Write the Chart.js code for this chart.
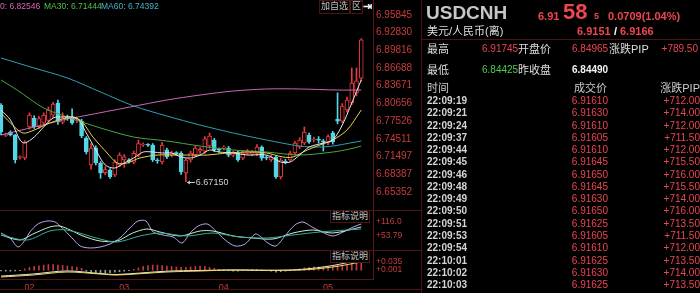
<!DOCTYPE html>
<html>
<head>
<meta charset="utf-8">
<script src="https://cdn.jsdelivr.net/npm/chart.js@4.4.0/dist/chart.umd.min.js"></script>
<style>
    body { margin: 0; background: #000; width: 700px; height: 293px; overflow: hidden; position: relative;
           font-family: "Liberation Sans", "Noto Sans CJK SC", sans-serif; }
    canvas { position: absolute; left: 0; }
    .t { position: absolute; white-space: nowrap; }
    .hl { position: absolute; height: 1px; background: #4d1414; }
    .vl { position: absolute; width: 1px; background: #4d1414; }
    .box { position: absolute; border: 1px solid #4d1414; color: #c4c4c4; font-size: 9px; line-height: 11px;
           text-align: center; white-space: nowrap; background: #000; }
</style>
</head>
<body>
<canvas id="priceChart" width="420" height="210" style="top:0"></canvas>
<canvas id="oscChart" width="420" height="40" style="top:210px"></canvas>
<canvas id="macdChart" width="420" height="43" style="top:250px"></canvas>
<div id="overlay"></div>
<script>
    // daily candles, 24 Jan .. 13 May
    var opens = [6.8034, 6.7510, 6.7569, 6.7517, 6.7130, 6.7121, 6.7655, 6.7810, 6.7660, 6.7720,
        6.7770, 6.7860, 6.8068, 6.7740, 6.7820, 6.7827, 6.7760, 6.7758, 6.7465, 6.7000,
        6.7293, 6.7035, 6.6870, 6.6914, 6.6828, 6.7000, 6.7090, 6.7090, 6.7050, 6.7170,
        6.7345, 6.7350, 6.7345, 6.7080, 6.7052, 6.7260, 6.7170, 6.7210, 6.7207, 6.6862,
        6.7086, 6.7170, 6.7240, 6.7240, 6.7330, 6.7430, 6.7260, 6.7290, 6.7290, 6.7170,
        6.7210, 6.7120, 6.7200, 6.7190, 6.7200, 6.7310, 6.7130, 6.7090, 6.7138, 6.6793,
        6.7070, 6.7086, 6.7207, 6.7310, 6.7379, 6.7517, 6.7431, 6.7440, 6.7410, 6.7380,
        6.7553, 6.7790, 6.7757, 6.7948, 6.8068, 6.8240, 6.84965];
    var highs = [6.8060, 6.7550, 6.7590, 6.7530, 6.7160, 6.7420, 6.7900, 6.7850, 6.7840, 6.7900,
        6.8000, 6.8080, 6.8120, 6.7900, 6.7860, 6.7970, 6.7810, 6.7790, 6.7490, 6.7370,
        6.7330, 6.7060, 6.6970, 6.6940, 6.7090, 6.7210, 6.7180, 6.7110, 6.7240, 6.7430,
        6.7380, 6.7370, 6.7370, 6.7110, 6.7390, 6.7290, 6.7240, 6.7230, 6.7230, 6.7110,
        6.7240, 6.7330, 6.7300, 6.7490, 6.7550, 6.7460, 6.7290, 6.7330, 6.7320, 6.7240,
        6.7240, 6.7240, 6.7270, 6.7250, 6.7350, 6.7330, 6.7160, 6.7170, 6.7160, 6.7120,
        6.7100, 6.7240, 6.7410, 6.7470, 6.7655, 6.7550, 6.7480, 6.7490, 6.7440, 6.7520,
        6.7580, 6.8243, 6.8060, 6.8170, 6.8672, 6.8672, 6.91745];
    var lows = [6.7520, 6.7490, 6.7500, 6.7035, 6.7100, 6.7090, 6.7620, 6.7630, 6.7630, 6.7690,
        6.7740, 6.7820, 6.7700, 6.7710, 6.7770, 6.7700, 6.7730, 6.7470, 6.7190, 6.6930,
        6.7000, 6.6770, 6.6830, 6.6770, 6.6800, 6.6970, 6.6960, 6.7030, 6.7020, 6.7140,
        6.7320, 6.7320, 6.7060, 6.7030, 6.7020, 6.7110, 6.7140, 6.7170, 6.6840, 6.6715,
        6.7050, 6.7140, 6.7200, 6.7200, 6.7290, 6.7230, 6.7220, 6.7260, 6.7140, 6.7140,
        6.7060, 6.7090, 6.7180, 6.7160, 6.7160, 6.7080, 6.7090, 6.7060, 6.6770, 6.6760,
        6.7020, 6.7060, 6.7180, 6.7280, 6.7350, 6.7370, 6.7400, 6.7380, 6.7240, 6.7350,
        6.7360, 6.7710, 6.7730, 6.7910, 6.8040, 6.8190, 6.84425];
    var closes = [6.7569, 6.7525, 6.7517, 6.7086, 6.7138, 6.7396, 6.7861, 6.7655, 6.7800, 6.7860,
        6.7950, 6.8050, 6.7741, 6.7810, 6.7810, 6.7724, 6.7775, 6.7500, 6.7224, 6.7290,
        6.7035, 6.6862, 6.6920, 6.6793, 6.7052, 6.7170, 6.7140, 6.7060, 6.7200, 6.7370,
        6.7350, 6.7340, 6.7086, 6.7070, 6.7345, 6.7140, 6.7210, 6.7195, 6.6880, 6.7086,
        6.7207, 6.7290, 6.7270, 6.7450, 6.7500, 6.7260, 6.7255, 6.7300, 6.7170, 6.7210,
        6.7090, 6.7210, 6.7240, 6.7220, 6.7310, 6.7120, 6.7120, 6.7140, 6.6793, 6.7086,
        6.7050, 6.7207, 6.7379, 6.7430, 6.7569, 6.7396, 6.7440, 6.7430, 6.7400, 6.7490,
        6.7396, 6.7755, 6.8017, 6.8120, 6.8413, 6.8449, 6.9158];

    var monthTicks = [6, 26, 47, 69];
    var monthLabels = ['02', '03', '04', '05'];
    var priceTicks = [6.95845, 6.92830, 6.89816, 6.86688, 6.83671, 6.80656, 6.77526, 6.74511, 6.71497, 6.68387, 6.65352];

    // moving averages, [candle index, price]
    var ma5Pts = [[0, 6.7948], [2, 6.7775], [4, 6.7431], [5, 6.7379], [7, 6.7482], [9, 6.7655], [11, 6.7810],
        [13, 6.7827], [16, 6.7810], [18, 6.7551], [20, 6.7258], [22, 6.7000], [24, 6.6948], [26, 6.7035],
        [28, 6.7121], [30, 6.7224], [32, 6.7224], [34, 6.7207], [36, 6.7207], [38, 6.7138], [40, 6.7121],
        [42, 6.7172], [44, 6.7258], [46, 6.7224], [49, 6.7207], [52, 6.7172], [56, 6.7172], [59, 6.7052],
        [61, 6.7052], [63, 6.7172], [65, 6.7310], [68, 6.7379], [70, 6.7431], [72, 6.7689], [74, 6.8068], [76, 6.8465]];
    var ma10Pts = [[0, 6.7896], [2, 6.7724], [4.6, 6.7551], [7, 6.7603], [10.3, 6.7724], [14, 6.7810], [16.7, 6.7775],
        [19.4, 6.7482], [22.4, 6.7207], [24.5, 6.7035], [26.6, 6.7035], [29.3, 6.7121], [33, 6.7172], [36.3, 6.7172],
        [40, 6.7172], [43.5, 6.7172], [47.7, 6.7207], [52.5, 6.7224], [56, 6.7207], [59.5, 6.7138], [61.6, 6.7138],
        [64.6, 6.7258], [67.3, 6.7345], [70, 6.7431], [73, 6.7603], [76, 6.7948]];
    var ma120Pts = [[0, 6.7517], [7, 6.7655], [14, 6.7793], [17.3, 6.7844], [27.2, 6.7999], [35, 6.8120],
        [42, 6.8206], [49, 6.8275], [56, 6.8310], [63, 6.8310], [71, 6.8292], [76, 6.8292]];
    var ma30Pts = [[0, 6.8465], [3.4, 6.8292], [9, 6.7982], [14, 6.7827], [21, 6.7638], [28, 6.7482], [35, 6.7414],
        [42, 6.7327], [49, 6.7258], [56, 6.7224], [63, 6.7172], [70, 6.7224], [73.6, 6.7276], [76, 6.7327]];
    var ma60Pts = [[0, 6.8844], [7, 6.8671], [14, 6.8499], [21, 6.8258], [28, 6.8017], [35, 6.7844], [42, 6.7689],
        [49, 6.7551], [56, 6.7431], [63, 6.7327], [67, 6.7310], [70, 6.7327], [73.6, 6.7379], [76, 6.7414]];

    // oscillator panel
    var oscTicks = [116.0, 53.79];
    var oscK = [[0, 67.1], [1.9, 44.9], [3.6, 4.9], [5.1, 36], [6.1, 71.6], [7.8, 107.1], [9.7, 120.4], [11.4, 116],
        [12.9, 89.3], [15, 44.9], [16.7, 9.3], [18.8, 0.4], [20.9, 4.9], [23, 18.2], [25.1, 44.9], [27.2, 89.3],
        [28.9, 120.4], [30.6, 120.4], [32.1, 71.6], [34.2, 58.2], [36.3, 49.3], [38.2, 22.7], [39.9, 67.1],
        [41.6, 98.2], [43.5, 107.1], [45.1, 80.4], [47.3, 36], [49.4, 9.3], [51.5, 18.2], [53.6, 62.7],
        [54.6, 53.8], [56.3, 22.7], [58, 9.3], [59.9, 53.8], [62, 102.7], [63.7, 116], [65.6, 93.8],
        [67.7, 71.6], [70, 53.8], [72.2, 71.6], [74.3, 93.8], [76, 107.1]];
    var oscD = [[0, 58.2], [4, 36], [6.75, 62.7], [10.3, 93.8], [12.4, 98.2], [14.6, 80.4], [17.3, 53.8],
        [20.9, 31.6], [24.5, 31.6], [27.8, 67.1], [30.8, 84.9], [33.5, 71.6], [37.8, 53.8], [42, 76],
        [44.7, 76], [49, 53.8], [53.2, 44.9], [57.4, 40.4], [61.6, 67.1], [65.8, 80.4], [70, 67.1], [76, 93.8]];
    var oscJ = [[0, 58.2], [5.5, 36], [10.3, 76], [13.9, 80.4], [20.9, 40.4], [24.5, 27.1], [29.3, 53.8],
        [33.5, 67.1], [39.2, 53.8], [44.7, 67.1], [50.4, 49.3], [56.1, 44.9], [61.6, 58.2], [67.3, 71.6], [76, 84.9]];

    // macd panel
    var macdTicks = [0.035, 0.001];
    var macdHist = [-0.003, -0.004, -0.004, -0.003, -0.002, 0.006, 0.012, 0.016, 0.019,
        0.022, 0.024, 0.024, 0.022, 0.020, 0.018, 0.016, 0.012, 0.008,
        -0.004, -0.008, -0.010, -0.012, -0.012, -0.010, -0.008, -0.006, -0.004, -0.002,
        0.004, 0.010, 0.016, 0.020, 0.022, 0.022, 0.020, 0.018, 0.016, 0.014, 0.012, 0.012, 0.014, 0.016, 0.018, 0.016,
        0.012, 0.008, 0.004, 0.002, -0.002, -0.004, -0.004, -0.002, 0.002, 0.004, 0.004, 0.002, -0.002, -0.004,
        -0.008, -0.006, -0.004, -0.002, 0.002,
        0.006, 0.010, 0.012, 0.014, 0.014, 0.014, 0.016, 0.016, 0.020, 0.022, 0.026, 0.030, 0.034, 0.042];
    var macdDif = [[0, -0.025], [6.75, -0.016], [13.9, -0.003], [20.9, -0.014], [24.5, -0.018], [35, -0.004],
        [42, -0.001], [49, 0.001], [56, -0.001], [63.1, 0.003], [70, 0.02], [76, 0.046]];
    var macdDea = [[0, -0.02875], [6.75, -0.02025], [13.9, -0.0075], [20.9, -0.016], [24.5, -0.02025], [35, -0.0075],
        [42, -0.00325], [49, 0.001], [63.1, 0.001], [70, 0.01375], [76, 0.035]];

    // quote table
    var tickTimes = ['22:09:19', '22:09:21', '22:09:24', '22:09:37', '22:09:44', '22:09:45', '22:09:46', '22:09:48',
        '22:09:49', '22:09:50', '22:09:51', '22:09:53', '22:09:54', '22:10:01', '22:10:02', '22:10:03'];
    var tickPrices = ['6.91610', '6.91630', '6.91610', '6.91605', '6.91610', '6.91645', '6.91650', '6.91645',
        '6.91630', '6.91650', '6.91625', '6.91605', '6.91610', '6.91625', '6.91630', '6.91625'];
    var tickPips = ['+712.00', '+714.00', '+712.00', '+711.50', '+712.00', '+715.50', '+716.00', '+715.50',
        '+714.00', '+716.00', '+713.50', '+711.50', '+712.00', '+713.50', '+714.00', '+713.50'];

    var UP = '#e8393f', DOWN = '#55d5e6', AXIS = '#c83c3c', LINE = '#5a1616', RED = '#ec4652';
    Chart.defaults.font.family = '"Liberation Sans", sans-serif';

    var idx = opens.map(function(v, i) { return i; });
    var candleColor = idx.map(function(i) { return closes[i] >= opens[i] ? UP : DOWN; });

    function toXY(pts) {
        return pts.map(function(p) { return {x: p[0], y: p[1]}; });
    }

    function lineSet(pts, color) {
        return {type: 'line', data: toXY(pts), borderColor: color, borderWidth: 1, pointRadius: 0,
            tension: 0.3, fill: false, order: 0};
    }

    function xScale(show) {
        return {
            type: 'linear', min: -0.21, max: 78.48, offset: false, display: show,
            grid: {display: false, drawTicks: false},
            border: {display: show, color: LINE},
            afterBuildTicks: function(s) { s.ticks = monthTicks.map(function(v) { return {value: v}; }); },
            afterFit: function(s) { s.paddingLeft = 0; s.paddingRight = 0; if (show) { s.height = 14; } },
            ticks: {color: AXIS, font: {size: 9}, padding: 3, maxRotation: 0, autoSkip: false,
                callback: function(v) { return monthLabels[monthTicks.indexOf(v)]; }}
        };
    }

    function yScale(min, max, ticks, size, fmt) {
        return {
            type: 'linear', position: 'right', min: min, max: max, beginAtZero: false,
            grid: {display: false, drawTicks: false},
            border: {color: LINE},
            afterBuildTicks: function(s) { s.ticks = ticks.map(function(v) { return {value: v}; }); },
            afterFit: function(s) { s.width = 47; s.paddingTop = 0; s.paddingBottom = 0; },
            ticks: {color: AXIS, font: {size: size}, padding: 3, autoSkip: false, callback: fmt}
        };
    }

    var baseOptions = function(scales) {
        return {
            responsive: false, animation: false, events: [],
            layout: {padding: 0},
            plugins: {legend: {display: false}, tooltip: {enabled: false}},
            scales: scales
        };
    };

    // arrow + value at the lowest low
    var lowMarker = {
        id: 'lowMarker',
        afterDatasetsDraw: function(chart) {
            var i = lows.indexOf(Math.min.apply(null, lows));
            var x = chart.scales.x.getPixelForValue(i);
            var y = Math.round(chart.scales.y.getPixelForValue(lows[i])) + 0.5;
            var ctx = chart.ctx;
            ctx.save();
            ctx.strokeStyle = '#d0d0d0';
            ctx.fillStyle = '#d0d0d0';
            ctx.lineWidth = 1;
            ctx.beginPath(); ctx.moveTo(x + 2, y); ctx.lineTo(x + 9, y); ctx.stroke();
            ctx.beginPath(); ctx.moveTo(x + 1, y); ctx.lineTo(x + 4, y - 2); ctx.lineTo(x + 4, y + 2); ctx.fill();
            ctx.font = '9px "Liberation Sans"';
            ctx.textBaseline = 'middle';
            ctx.fillText(lows[i].toFixed(5), x + 10, y);
            ctx.restore();
        }
    };

    new Chart(document.getElementById('priceChart'), {
        type: 'bar',
        data: {
            datasets: [
                lineSet(ma5Pts, '#e6e6e6'),
                lineSet(ma10Pts, '#e6d24a'),
                lineSet(ma120Pts, '#c868b8'),
                lineSet(ma30Pts, '#45a845'),
                lineSet(ma60Pts, '#2f9fb4'),
                {
                    data: idx.map(function(i) { return {x: i, y: [opens[i], closes[i]]}; }),
                    backgroundColor: idx.map(function(i) { return closes[i] >= opens[i] ? '#000' : DOWN; }),
                    borderColor: candleColor, borderWidth: 1, borderSkipped: false,
                    barThickness: 4, minBarLength: 1, grouped: false, order: 1
                },
                {
                    data: idx.map(function(i) { return {x: i, y: [lows[i], highs[i]]}; }),
                    backgroundColor: candleColor, borderWidth: 0,
                    barThickness: 1, grouped: false, order: 2
                }
            ]
        },
        options: baseOptions({
            x: xScale(false),
            y: yScale(6.62251, 6.98429, priceTicks, 10, function(v) { return v.toFixed(5); })
        }),
        plugins: [lowMarker]
    });

    new Chart(document.getElementById('oscChart'), {
        type: 'line',
        data: {
            datasets: [
                lineSet(oscJ, '#35b09c'),
                lineSet(oscD, '#cfeecf'),
                lineSet(oscK, '#b9a6ee')
            ]
        },
        options: baseOptions({
            x: xScale(false),
            y: yScale(-8.43, 169.3, oscTicks, 8.5, function(v) { return '+' + (v === 116 ? '116.0' : v.toFixed(2)); })
        })
    });

    new Chart(document.getElementById('macdChart'), {
        type: 'bar',
        data: {
            datasets: [
                lineSet(macdDea, '#f0dc5a'),
                lineSet(macdDif, '#e8e8e8'),
                {
                    data: idx.map(function(i) { return {x: i, y: macdHist[i]}; }),
                    backgroundColor: macdHist.map(function(v) { return v >= 0 ? '#c23a3a' : '#9a9a9a'; }),
                    barThickness: 1, grouped: false, order: 1
                }
            ]
        },
        options: baseOptions({
            x: xScale(true),
            y: yScale(-0.03725, 0.086, macdTicks, 8.5, function(v) { return '+' + v.toFixed(3); })
        })
    });

    // page text around the charts
    var overlay = document.getElementById('overlay');

    function addText(text, left, cy, size, color, bold, right) {
        var d = document.createElement('div');
        d.className = 't';
        d.textContent = text;
        d.style.fontSize = size + 'px';
        d.style.lineHeight = size + 'px';
        d.style.top = (cy - size * 0.5) + 'px';
        d.style.color = color;
        if (bold) { d.style.fontWeight = 'bold'; }
        if (right) { d.style.right = (700 - left) + 'px'; } else { d.style.left = left + 'px'; }
        overlay.appendChild(d);
        return d;
    }

    function addLine(cls, left, top, size) {
        var d = document.createElement('div');
        d.className = cls;
        d.style.left = left + 'px';
        d.style.top = top + 'px';
        if (cls === 'hl') { d.style.width = size + 'px'; } else { d.style.height = size + 'px'; }
        overlay.appendChild(d);
    }

    function addBox(text, left, top, w, h) {
        var d = document.createElement('div');
        d.className = 'box';
        d.textContent = text;
        d.style.left = left + 'px';
        d.style.top = top + 'px';
        d.style.width = w + 'px';
        d.style.height = h + 'px';
        overlay.appendChild(d);
    }

    addLine('hl', 0, 210, 421);
    addLine('hl', 0, 250, 421);
    addLine('hl', 0, 289, 421);
    addLine('vl', 421, 0, 293);
    addLine('hl', 421, 39, 279);

    addText('0: 6.82546', 0, 6, 8.5, '#d866b0');
    addText('MA30: 6.71444', 44, 6, 8.5, '#4cc04c');
    addText('MA60: 6.74392', 101, 6, 8.5, '#45b4cc');

    addBox('加自选', 319, 0, 29, 12);
    addBox('区', 350, 0, 11, 12);
    addText('⇥', 363, 6, 11, '#f0f0f0', true);
    addBox('指标说明', 330, 210, 38, 11);
    addBox('指标说明', 330, 250, 38, 11);

    addText('USDCNH', 426, 12, 19, '#c6c6c6', true);
    addText('6.91', 538, 16, 11, RED, true);
    addText('58', 563, 12, 22, RED, true);
    addText('5', 594, 16.5, 9, RED, true);
    addText('0.0709(1.04%)', 608, 16.5, 11, RED, true);
    addText('美元/人民币(离)', 427, 31, 11, '#dddddd');
    addText('6.9151', 577, 31, 11, RED, true);
    addText('/', 614, 31, 11, '#ffffff', true);
    addText('6.9166', 620, 31, 11, RED, true);

    addText('最高', 427, 49, 11, '#dddddd');
    addText('6.91745', 482, 49, 10, RED);
    addText('开盘价', 518, 49, 11, '#dddddd');
    addText('6.84965', 572, 49, 10, RED);
    addText('涨跌PIP', 609, 49, 11, '#dddddd');
    addText('+789.50', 698, 49, 10, RED, false, true);
    addText('最低', 427, 70, 11, '#dddddd');
    addText('6.84425', 482, 70, 10, '#4ccc4c');
    addText('昨收盘', 518, 70, 11, '#dddddd');
    addText('6.84490', 572, 70, 10, '#f0f0f0', true);

    addText('时间', 427, 88, 11, '#cccccc');
    addText('成交价', 607, 88, 11, '#cccccc', false, true);
    addText('涨跌PIP', 700, 88, 11, '#cccccc', false, true);

    tickTimes.forEach(function(t, k) {
        var cy = 101 + k * 12.27;
        addText(t, 427, cy, 10, '#d4d4d4', true);
        addText(tickPrices[k], 608, cy, 10, RED, false, true);
        addText(tickPips[k], 700, cy, 10, RED, false, true);
    });
</script>
</body>
</html>
